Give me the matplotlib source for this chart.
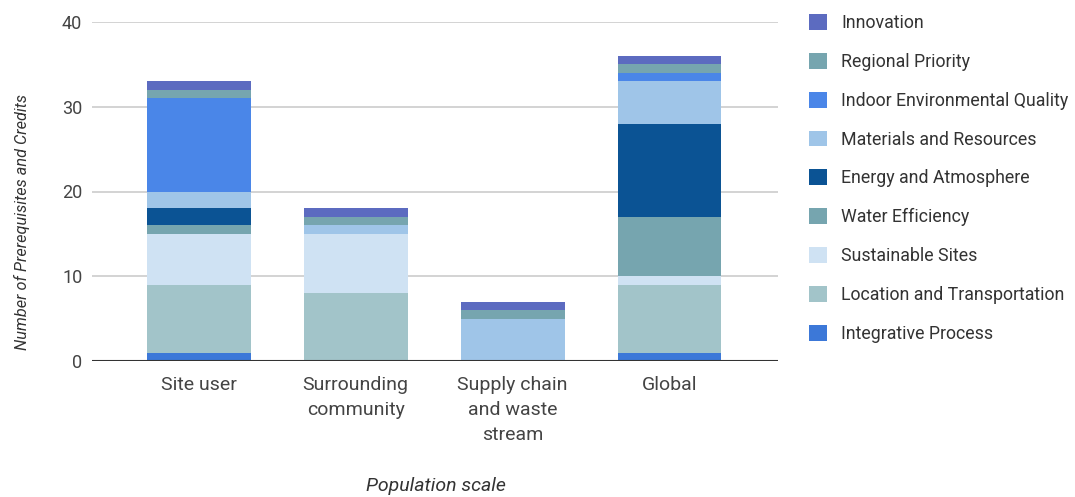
import numpy as np
import matplotlib
matplotlib.use("Agg")
import matplotlib.pyplot as plt
from matplotlib.patches import Patch

plt.rcParams['font.family'] = ['Roboto', 'DejaVu Sans']

groups = ['Site user', 'Surrounding\ncommunity', 'Supply chain\nand waste\nstream', 'Global']

# credit categories, bottom of the stack first
categories = ['Integrative Process', 'Location and Transportation', 'Sustainable Sites',
              'Water Efficiency', 'Energy and Atmosphere', 'Materials and Resources',
              'Indoor Environmental Quality', 'Regional Priority', 'Innovation']
integrative = [1, 0, 0, 1]
location = [8, 8, 0, 8]
sites = [6, 7, 0, 1]
water = [1, 0, 0, 7]
energy = [2, 0, 0, 11]
materials = [2, 1, 5, 5]
indoor = [11, 0, 0, 1]
regional = [1, 1, 1, 1]
innovation = [1, 1, 1, 1]

series = [integrative, location, sites, water, energy, materials, indoor, regional, innovation]
colors = ['#3c78d8', '#a2c4c9', '#cfe2f3', '#76a5af', '#0b5394', '#9fc5e8',
          '#4a86e8', '#76a5af', '#5c6bc0']

fig = plt.figure(figsize=(10.75, 4.97), dpi=100)
ax = fig.add_axes([92 / 1075, 1 - 361 / 497, (778 - 92) / 1075, (361 - 22) / 497])

x = np.arange(len(groups))
bottom = np.zeros(len(groups))
for vals, c in zip(series, colors):
    vals = np.array(vals, dtype=float)
    ax.bar(x, vals, 0.66, bottom=bottom, color=c, linewidth=0, zorder=3)
    bottom += vals

ax.set_ylim(0, 40)
ax.set_xlim(-0.68, 3.69)
ax.set_yticks([0, 10, 20, 30, 40])
ax.yaxis.grid(True, color='#cccccc', linewidth=1.2, zorder=0)
ax.axhline(0, color='#333333', linewidth=1.5, zorder=4)
for s in ax.spines.values():
    s.set_visible(False)
ax.tick_params(length=0, labelcolor='#444444')
ax.tick_params(axis='y', pad=7, labelsize=13)
ax.set_xticks(x)
ax.set_xticklabels(groups, va='top', linespacing=1.5)
ax.tick_params(axis='x', pad=10.5, labelsize=14)

ax.set_ylabel('Number of Prerequisites and Credits', fontsize=11.7, style='italic',
              color='#333333')
ax.yaxis.set_label_coords(-0.091, 0.41)
fig.text(436 / 1075, 1 - 486 / 497, 'Population scale', ha='center', va='center',
         fontsize=14, style='italic', color='#333333')

handles = [Patch(facecolor=c, edgecolor='none') for c in colors][::-1]
leg = fig.legend(handles, categories[::-1], loc='upper left',
                 bbox_to_anchor=(793 / 1075, 1 + 2 / 497), frameon=False,
                 fontsize=12.8, labelspacing=1.17, handlelength=1.0, handleheight=1.0,
                 handletextpad=0.8, labelcolor='#333333')

fig.savefig('out.png', dpi=100, facecolor='white')
